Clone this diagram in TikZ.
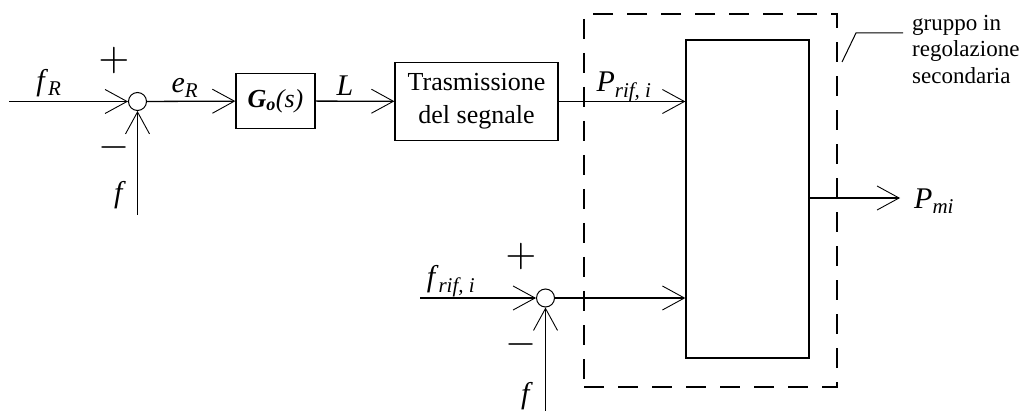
\documentclass[tikz,border=0pt]{standalone}
\usepackage{fontspec}
\setmainfont{Liberation Serif}
\usetikzlibrary{arrows.meta,positioning}

\newcommand{\sig}[2]{\textit{#1}\textsubscript{\textit{#2}}}

\begin{document}
\begin{tikzpicture}[x=1pt, y=-1pt,
    every node/.style={font=\fontsize{26}{33}\selectfont},
    blk/.style={rectangle, draw, line width=1.3pt, inner sep=0pt, align=center},
    sumnode/.style={circle, draw, line width=1pt, minimum size=18pt, inner sep=0pt},
    sgn/.style={font=\normalsize, inner sep=0pt},
    lab/.style={inner sep=0pt, font=\fontsize{30}{33}\selectfont},
    conn/.style={line width=1.3pt, -{Straight Barb[length=22pt,width=24pt,line width=0.9pt]}},
    wire/.style={line width=1.3pt},
    grpbox/.style={rectangle, draw, line width=1.5pt, dash pattern=on 20pt off 14pt, inner sep=0pt}
]
    \useasboundingbox (0,0) rectangle (1030,411);

    % upper loop
    \coordinate (inR) at (9,101.5);
    \node[sumnode] (sum1) at (137.5,101.5) {};
    \coordinate (fin1) at (137.5,215);
    \node[blk, minimum width=79pt, minimum height=55pt] (Go) at (275.5,101) {\textbf{\textit{G}}\textsubscript{\textbf{\textit{o}}}\textit{(s)}};
    \node[blk, minimum width=163pt, minimum height=78pt] (trasm) at (476.5,101.5) {Trasmissione\\del segnale};

    % secondary regulation group
    \node[grpbox, minimum width=253pt, minimum height=373pt] (area) at (710.5,200.5) {};
    \node[blk, minimum width=123pt, minimum height=318pt] (grp) at (747.5,199) {};

    % lower loop
    \coordinate (inF) at (420,298);
    \node[sumnode] (sum2) at (545.5,298) {};
    \coordinate (fin2) at (545.5,411);
    \coordinate (out) at (900,198);

    % labels
    \node[lab] (fR) at (49,83) {\sig{f}{R}};
    \node[sgn] (p1) at (114,61) {\scalebox{4}{$+$}};
    \node[sgn] (m1) at (114,148) {\scalebox{4}{$-$}};
    \node[lab] (f1) at (120,195) {\textit{f}};
    \node[lab] (eR) at (185,88) {\sig{e}{R}};
    \node[lab] (L) at (345,86) {\textit{L}};
    \node[lab] (Pref) at (624,87) {\sig{P}{rif, i}};
    \node[lab] (fref) at (451,281) {\sig{f}{rif, i}};
    \node[sgn] (p2) at (521,257) {\scalebox{4}{$+$}};
    \node[sgn] (m2) at (521,345) {\scalebox{4}{$-$}};
    \node[lab] (f2) at (527,396) {\textit{f}};
    \node[lab, anchor=west] (Pmi) at (914,201) {\sig{P}{mi}};
    \node[lab, anchor=north west, align=left, font=\fontsize{23}{26.5}\selectfont] (note) at (912,15) {gruppo in\\regolazione\\secondaria};
    \coordinate (nbend) at (856,33);
    \coordinate (nend) at (903,33);
    \coordinate (nstart) at (842,62);

    % connections
    \draw[conn] (inR) -- (sum1);
    \draw[conn] (fin1) -- (sum1);
    \draw[conn] (sum1) -- (Go);
    \draw[conn] (Go) -- (trasm);
    \draw[conn] (trasm.east |- sum1) -- (grp.west |- sum1);
    \draw[conn] (inF) -- (sum2);
    \draw[conn] (fin2) -- (sum2);
    \draw[conn] (sum2) -- (grp.west |- sum2);
    \draw[conn] (grp.east |- out) -- (out);
    \draw[line width=1pt] (nstart) -- (nbend) -- (nend);
\end{tikzpicture}
\end{document}
